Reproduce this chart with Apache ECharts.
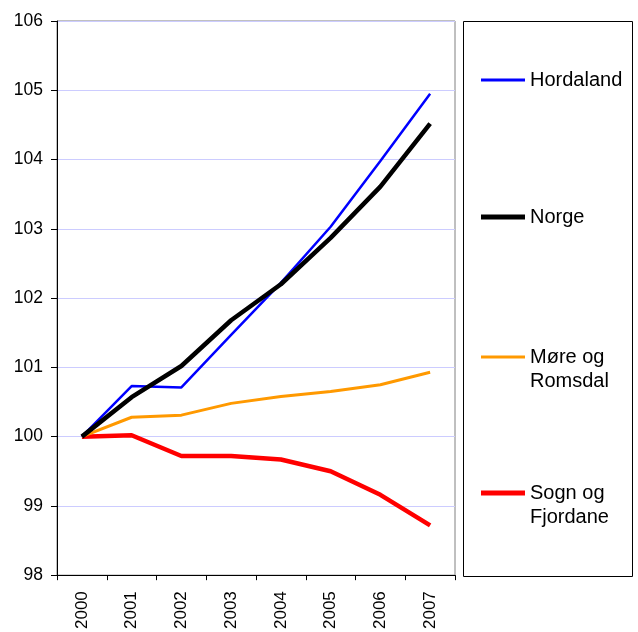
<!DOCTYPE html>
<html>
<head>
<meta charset="utf-8">
<script src="https://cdn.jsdelivr.net/npm/echarts@6/dist/echarts.min.js"></script>
<style>html,body{margin:0;padding:0;background:#fff}#c{width:638px;height:632px}</style>
</head>
<body>
<div id="c"></div>
<script>
var years = ['2000','2001','2002','2003','2004','2005','2006','2007'];
var hordaland = [100, 100.73, 100.71, 101.47, 102.22, 103.03, 103.98, 104.95];
var norge = [100, 100.57, 101.02, 101.68, 102.2, 102.87, 103.61, 104.52];
var more = [100, 100.28, 100.31, 100.48, 100.58, 100.65, 100.75, 100.93];
var sogn = [100, 100.02, 99.72, 99.72, 99.67, 99.5, 99.16, 98.72];
var yTicks = [98, 99, 100, 101, 102, 103, 104, 105, 106];

var names = ['Hordaland', 'Norge', 'Møre og Romsdal', 'Sogn og Fjordane'];
var labels = ['Hordaland', 'Norge', '\nMøre og\nRomsdal', '\nSogn og\nFjordane'];
var colors = ['#0000ff', '#000000', '#ff9900', '#ff0000'];
var widths = [2.5, 4.5, 3, 4.5];
var dataSets = [hordaland, norge, more, sogn];
var legendTops = [68, 205, 321, 457];
var FONT = '"Liberation Sans", Arial, sans-serif';

var chart = echarts.init(document.getElementById('c'));
var series = names.map(function (n, i) {
  return {
    name: n, type: 'line', data: dataSets[i], showSymbol: false, symbol: 'none',
    lineStyle: { color: colors[i], width: widths[i] }, itemStyle: { color: colors[i] },
    animation: false, z: 10 - i
  };
});
series[1].z = 20;

var legends = names.map(function (n, i) {
  return {
    data: [n], left: 481, top: legendTops[i], orient: 'vertical', padding: 0,
    icon: 'rect', itemWidth: 44, itemHeight: Math.round(widths[i]), selectedMode: false,
    formatter: function () { return labels[i]; },
    textStyle: { fontFamily: FONT, fontSize: 20, color: '#000', lineHeight: 24 }
  };
});

chart.setOption({
  animation: false,
  backgroundColor: '#fff',
  grid: { left: 57, right: 183, top: 21, bottom: 54, show: true, borderColor: '#808080', borderWidth: 1, containLabel: false },
  xAxis: {
    type: 'category', data: years, boundaryGap: true,
    axisLine: { lineStyle: { color: '#000', width: 1 } },
    axisTick: { show: true, length: 5, lineStyle: { color: '#000' } },
    axisLabel: { rotate: 90, margin: 16, fontFamily: FONT, fontSize: 17, color: '#000' },
    splitLine: { show: false }
  },
  yAxis: {
    type: 'value', min: yTicks[0], max: yTicks[yTicks.length - 1], interval: 1,
    axisLine: { show: true, lineStyle: { color: '#000', width: 1 } },
    axisTick: { show: true, length: 6, lineStyle: { color: '#000' } },
    axisLabel: { margin: 14, fontFamily: FONT, fontSize: 17.5, color: '#000' },
    splitLine: { show: true, lineStyle: { color: '#ccccff', width: 1 } }
  },
  legend: legends,
  graphic: [{
    type: 'rect', shape: { x: 463.5, y: 21.5, width: 169, height: 555 },
    style: { fill: 'none', stroke: '#000', lineWidth: 1 }, z: -1
  }],
  series: series
});
</script>
</body>
</html>
